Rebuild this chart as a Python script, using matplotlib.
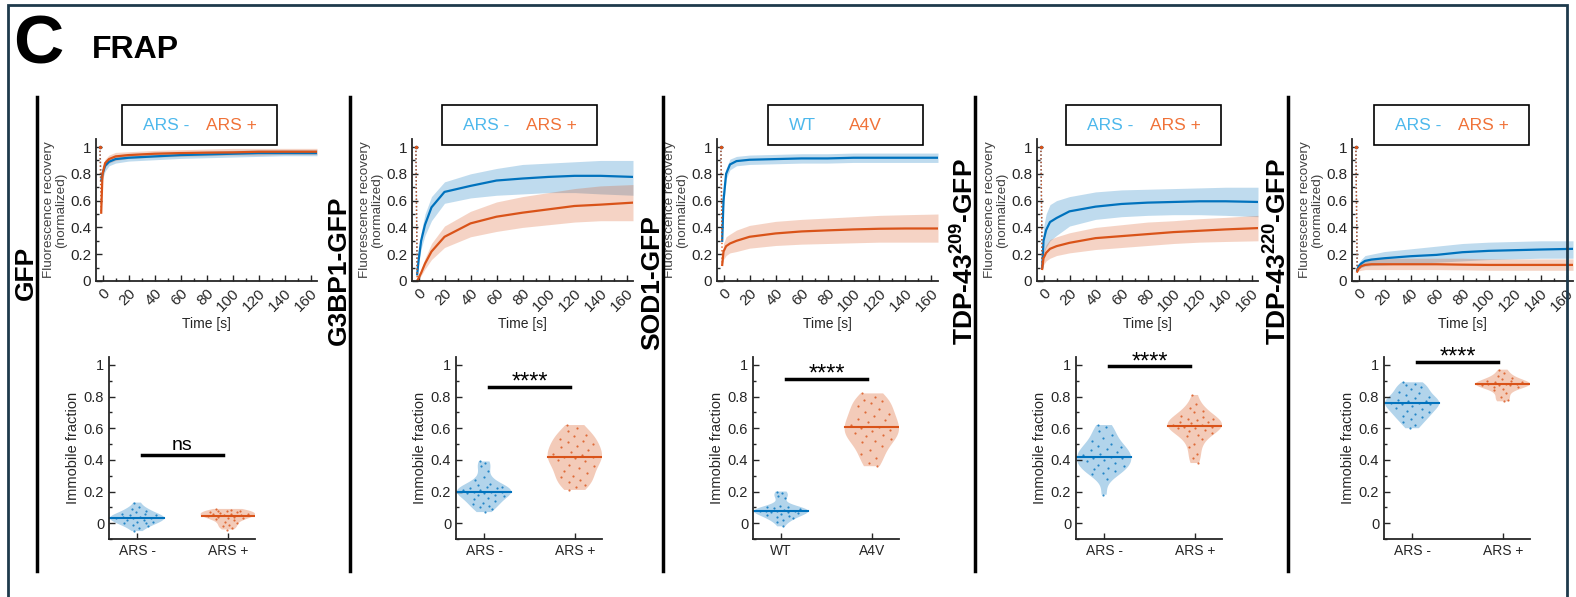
import numpy as np
import matplotlib.pyplot as plt
from matplotlib.patches import Rectangle
from matplotlib.lines import Line2D
from matplotlib.ticker import MultipleLocator, FuncFormatter

plt.rcParams['font.family'] = ['Liberation Sans', 'DejaVu Sans']
plt.rcParams['mathtext.fontset'] = 'custom'
plt.rcParams['mathtext.rm'] = 'Liberation Sans'
plt.rcParams['mathtext.bf'] = 'Liberation Sans:bold'

W, H = 1576, 597
BLUE = '#0072BD'
ORANGE = '#D95319'
TXT_BLUE = '#4DB8EC'
TXT_ORANGE = '#F07238'
GREY = '#262626'

# ---------------- data ----------------
names = ["GFP", "G3BP1-GFP", "SOD1-GFP",
         r"TDP-43$^{\mathbf{209}}$-GFP", r"TDP-43$^{\mathbf{220}}$-GFP"]
groups = [("ARS -", "ARS +"), ("ARS -", "ARS +"), ("WT", "A4V"),
          ("ARS -", "ARS +"), ("ARS -", "ARS +")]
signif = ["ns", "****", "****", "****", "****"]
signif_y = [0.43, 0.86, 0.91, 0.99, 1.02]

t_pre = -2
time = [-1, 0, 2, 5, 10, 20, 40, 60, 80, 100, 120, 140, 165]

# recovery curves: (mean, low, high) for each condition
gfp_a = ([0.75, 0.80, 0.86, 0.89, 0.91, 0.92, 0.93, 0.94, 0.945, 0.95, 0.955, 0.955, 0.955],
         [0.75, 0.76, 0.82, 0.86, 0.88, 0.895, 0.905, 0.915, 0.92, 0.925, 0.93, 0.935, 0.935],
         [0.75, 0.84, 0.90, 0.92, 0.94, 0.95, 0.96, 0.965, 0.97, 0.975, 0.978, 0.98, 0.98])
gfp_b = ([0.51, 0.80, 0.88, 0.91, 0.93, 0.94, 0.95, 0.955, 0.958, 0.96, 0.965, 0.965, 0.965],
         [0.51, 0.76, 0.85, 0.88, 0.90, 0.915, 0.925, 0.93, 0.935, 0.94, 0.94, 0.945, 0.945],
         [0.51, 0.84, 0.91, 0.94, 0.96, 0.965, 0.975, 0.98, 0.985, 0.99, 0.99, 0.99, 0.99])

g3bp1_a = ([0.05, 0.15, 0.30, 0.42, 0.55, 0.665, 0.71, 0.75, 0.765, 0.777, 0.785, 0.785, 0.777],
           [0.05, 0.12, 0.24, 0.34, 0.45, 0.58, 0.62, 0.64, 0.65, 0.66, 0.66, 0.65, 0.64],
           [0.05, 0.18, 0.36, 0.50, 0.63, 0.74, 0.80, 0.84, 0.87, 0.88, 0.89, 0.90, 0.90])
g3bp1_b = ([0.0, 0.02, 0.06, 0.13, 0.22, 0.33, 0.43, 0.48, 0.51, 0.535, 0.56, 0.57, 0.585],
           [0.0, 0.01, 0.04, 0.09, 0.16, 0.25, 0.33, 0.37, 0.40, 0.42, 0.44, 0.45, 0.45],
           [0.0, 0.03, 0.08, 0.17, 0.28, 0.41, 0.52, 0.59, 0.63, 0.66, 0.69, 0.71, 0.72])

sod1_a = ([0.30, 0.60, 0.80, 0.87, 0.895, 0.905, 0.91, 0.915, 0.915, 0.92, 0.92, 0.92, 0.92],
          [0.30, 0.55, 0.76, 0.83, 0.86, 0.87, 0.875, 0.88, 0.88, 0.885, 0.885, 0.885, 0.885],
          [0.30, 0.65, 0.84, 0.91, 0.93, 0.94, 0.945, 0.95, 0.95, 0.955, 0.955, 0.955, 0.955])
sod1_b = ([0.12, 0.22, 0.26, 0.28, 0.30, 0.33, 0.355, 0.37, 0.378, 0.385, 0.39, 0.392, 0.392],
          [0.12, 0.16, 0.19, 0.21, 0.22, 0.245, 0.265, 0.275, 0.28, 0.285, 0.29, 0.29, 0.29],
          [0.12, 0.28, 0.33, 0.35, 0.38, 0.415, 0.445, 0.46, 0.47, 0.48, 0.49, 0.495, 0.50])

tdp209_a = ([0.10, 0.30, 0.38, 0.44, 0.47, 0.52, 0.555, 0.575, 0.585, 0.59, 0.595, 0.595, 0.59],
            [0.10, 0.20, 0.25, 0.30, 0.34, 0.41, 0.46, 0.48, 0.49, 0.495, 0.495, 0.49, 0.48],
            [0.10, 0.40, 0.50, 0.57, 0.60, 0.63, 0.665, 0.68, 0.685, 0.69, 0.695, 0.70, 0.70])
tdp209_b = ([0.09, 0.17, 0.21, 0.24, 0.26, 0.285, 0.32, 0.335, 0.35, 0.365, 0.375, 0.385, 0.395],
            [0.09, 0.12, 0.15, 0.17, 0.19, 0.21, 0.235, 0.25, 0.265, 0.28, 0.29, 0.295, 0.30],
            [0.09, 0.22, 0.27, 0.31, 0.33, 0.36, 0.40, 0.42, 0.44, 0.45, 0.465, 0.475, 0.49])

tdp220_a = ([0.08, 0.11, 0.13, 0.15, 0.16, 0.17, 0.185, 0.195, 0.215, 0.225, 0.23, 0.235, 0.24],
            [0.08, 0.09, 0.10, 0.11, 0.115, 0.12, 0.13, 0.14, 0.15, 0.16, 0.165, 0.17, 0.17],
            [0.08, 0.13, 0.16, 0.19, 0.20, 0.22, 0.24, 0.26, 0.28, 0.29, 0.295, 0.30, 0.30])
tdp220_b = ([0.07, 0.09, 0.11, 0.12, 0.125, 0.125, 0.125, 0.125, 0.122, 0.12, 0.12, 0.12, 0.12],
            [0.07, 0.075, 0.08, 0.085, 0.085, 0.085, 0.085, 0.085, 0.083, 0.08, 0.08, 0.08, 0.08],
            [0.07, 0.11, 0.14, 0.16, 0.165, 0.17, 0.17, 0.17, 0.17, 0.165, 0.165, 0.165, 0.165])

curves = [(gfp_a, gfp_b), (g3bp1_a, g3bp1_b), (sod1_a, sod1_b),
          (tdp209_a, tdp209_b), (tdp220_a, tdp220_b)]

# immobile fractions (one value per cell)
imm_gfp_a = [0.13, 0.10, 0.09, 0.08, 0.07, 0.06, 0.06, 0.05, 0.05, 0.04, 0.04, 0.035,
             0.03, 0.03, 0.02, 0.02, 0.01, 0.01, 0.0, 0.0, -0.01, -0.02, -0.03, -0.05]
imm_gfp_b = [0.09, 0.085, 0.08, 0.08, 0.075, 0.07, 0.07, 0.065, 0.06, 0.06, 0.055, 0.05,
             0.05, 0.045, 0.04, 0.04, 0.035, 0.03, 0.025, 0.02, 0.01, 0.0, -0.01, -0.02,
             -0.03, -0.04]
imm_g3bp1_a = [0.39, 0.38, 0.36, 0.33, 0.29, 0.27, 0.25, 0.24, 0.23, 0.23, 0.22, 0.22,
               0.21, 0.21, 0.20, 0.20, 0.20, 0.19, 0.19, 0.18, 0.18, 0.17, 0.16, 0.15,
               0.14, 0.13, 0.12, 0.11, 0.10, 0.09, 0.07]
imm_g3bp1_b = [0.62, 0.60, 0.58, 0.56, 0.55, 0.53, 0.52, 0.51, 0.50, 0.49, 0.48, 0.46,
               0.45, 0.44, 0.43, 0.42, 0.415, 0.41, 0.40, 0.39, 0.37, 0.36, 0.35, 0.33,
               0.32, 0.30, 0.29, 0.27, 0.26, 0.24, 0.23, 0.21]
imm_sod1_a = [0.20, 0.19, 0.17, 0.16, 0.11, 0.10, 0.10, 0.095, 0.09, 0.085, 0.08, 0.08,
              0.075, 0.075, 0.07, 0.07, 0.065, 0.06, 0.05, 0.045, 0.04, 0.03, 0.02,
              0.01, -0.02]
imm_sod1_b = [0.82, 0.80, 0.78, 0.77, 0.76, 0.74, 0.72, 0.70, 0.69, 0.68, 0.66, 0.65,
              0.64, 0.62, 0.61, 0.60, 0.59, 0.58, 0.57, 0.56, 0.55, 0.53, 0.52, 0.51,
              0.49, 0.46, 0.44, 0.41, 0.38, 0.36]
imm_tdp209_a = [0.62, 0.61, 0.58, 0.56, 0.54, 0.52, 0.50, 0.49, 0.48, 0.47, 0.46, 0.45,
                0.44, 0.43, 0.42, 0.41, 0.41, 0.40, 0.39, 0.38, 0.37, 0.36, 0.35, 0.34,
                0.33, 0.32, 0.31, 0.28, 0.18]
imm_tdp209_b = [0.81, 0.75, 0.73, 0.71, 0.70, 0.68, 0.67, 0.66, 0.66, 0.65, 0.64, 0.64,
                0.63, 0.62, 0.62, 0.61, 0.61, 0.60, 0.60, 0.59, 0.58, 0.57, 0.56, 0.55,
                0.53, 0.50, 0.48, 0.44, 0.41, 0.38]
imm_tdp220_a = [0.89, 0.88, 0.87, 0.86, 0.85, 0.83, 0.82, 0.81, 0.80, 0.79, 0.78, 0.77,
                0.77, 0.76, 0.76, 0.75, 0.75, 0.74, 0.73, 0.72, 0.71, 0.70, 0.69, 0.68,
                0.67, 0.66, 0.64, 0.62, 0.60]
imm_tdp220_b = [0.97, 0.95, 0.93, 0.92, 0.91, 0.90, 0.90, 0.89, 0.89, 0.88, 0.88, 0.88,
                0.875, 0.87, 0.87, 0.86, 0.86, 0.85, 0.84, 0.82, 0.80, 0.78, 0.77]

immobile = [(imm_gfp_a, imm_gfp_b), (imm_g3bp1_a, imm_g3bp1_b), (imm_sod1_a, imm_sod1_b),
            (imm_tdp209_a, imm_tdp209_b), (imm_tdp220_a, imm_tdp220_b)]

# ---------------- layout (pixels) ----------------
line_x = [37, 350, 663, 975, 1288]
top_left = [96, 412, 717, 1037, 1352]
vio_left = [109, 456, 753, 1076, 1384]
legend_left = [122, 442, 768, 1066, 1374]
legend_text_dx = [(44, 109), (44, 109), (34, 97), (44, 109), (44, 109)]
label_bottom = [300, 345, 350, 345, 345]

fig = plt.figure(figsize=(W / 100, H / 100), dpi=100)


def px_axes(l, t, r, b):
    return fig.add_axes([l / W, 1 - b / H, (r - l) / W, (b - t) / H])


def style(ax):
    for s in ['top', 'right']:
        ax.spines[s].set_visible(False)
    for s in ['left', 'bottom']:
        ax.spines[s].set_linewidth(1.3)
        ax.spines[s].set_color(GREY)
    ax.tick_params(which='both', direction='in', colors=GREY, width=1)
    ax.tick_params(which='major', length=4)
    ax.tick_params(which='minor', length=2)


fmt = FuncFormatter(lambda v, p: f"{v:g}")

# outer frame
fig.add_artist(Rectangle((8 / W, -0.02), 1559 / W, 1 - 5 / H + 0.02, transform=fig.transFigure,
                         fill=False, edgecolor='#1E3A4C', lw=2))
fig.text(13 / W, 1 - 45 / H, "C", fontsize=50, fontweight='bold', va='center', ha='left')
fig.text(92 / W, 1 - 50 / H, "FRAP", fontsize=23, fontweight='bold', va='center', ha='left')

for k in range(5):
    # separator and column label
    fig.add_artist(Line2D([line_x[k] / W] * 2, [1 - 97 / H, 1 - 571 / H],
                          transform=fig.transFigure, color='black', lw=2.5))
    fig.text((line_x[k] - 11) / W, 1 - label_bottom[k] / H, names[k], rotation=90,
             fontsize=19, fontweight='bold', ha='center', va='bottom')

    # legend box
    bl = legend_left[k]
    fig.add_artist(Rectangle((bl / W, 1 - 145 / H), 155 / W, 40 / H,
                             transform=fig.transFigure, fill=False, edgecolor='black', lw=1.2))
    fig.text((bl + legend_text_dx[k][0]) / W, 1 - 125 / H, groups[k][0], color=TXT_BLUE,
             fontsize=12.5, ha='center', va='center')
    fig.text((bl + legend_text_dx[k][1]) / W, 1 - 125 / H, groups[k][1], color=TXT_ORANGE,
             fontsize=12.5, ha='center', va='center')

    # recovery curves
    ax = px_axes(top_left[k], 139, top_left[k] + 221, 281)
    style(ax)
    for (mean, lo, hi), col in zip(curves[k], [BLUE, ORANGE]):
        ax.fill_between(time, lo, hi, color=col, alpha=0.25, lw=0)
        ax.plot([t_pre, time[0]], [1, mean[0]], ':', color=col, lw=1)
        ax.plot([t_pre], [1], '.', color=col, ms=3)
        ax.plot(time, mean, color=col, lw=1.6)
    ax.set_xlim(-5, 165)
    ax.set_ylim(0, 1.06)
    ax.xaxis.set_major_locator(MultipleLocator(20))
    ax.xaxis.set_minor_locator(MultipleLocator(10))
    ax.yaxis.set_major_locator(MultipleLocator(0.2))
    ax.yaxis.set_minor_locator(MultipleLocator(0.1))
    ax.yaxis.set_major_formatter(fmt)
    ax.tick_params(axis='both', labelsize=11, labelcolor=GREY)
    for lab in ax.get_xticklabels():
        lab.set_rotation(45)
        lab.set_ha('right')
        lab.set_rotation_mode('anchor')
    ax.set_xlabel("Time [s]", fontsize=10, color=GREY, labelpad=2)
    ax.set_ylabel("Fluorescence recovery\n(normalized)", fontsize=9.7, color='#404040',
                  labelpad=2, linespacing=1.05)

    # violins
    ax2 = px_axes(vio_left[k], 357, vio_left[k] + 146, 539)
    style(ax2)
    vp = ax2.violinplot(immobile[k], positions=[1, 2], widths=0.6, showextrema=False,
                        bw_method=0.45)
    for pos, body, vals, col in zip([1, 2], vp['bodies'], immobile[k], [BLUE, ORANGE]):
        body.set_facecolor(col)
        body.set_edgecolor('none')
        body.set_alpha(0.3)
        v = body.get_paths()[0].vertices
        right = v[v[:, 0] >= pos]
        order = np.argsort(right[:, 1])
        vals = np.asarray(vals)
        hw = np.interp(vals, right[order, 1], right[order, 0]) - pos
        frac = ((np.arange(len(vals)) * 0.6180339887) % 1.0) * 2 - 1
        ax2.scatter(pos + frac * hw * 0.85, vals, s=2.5, color=col, alpha=0.8, lw=0)
        med = np.median(vals)
        mw = np.interp(med, right[order, 1], right[order, 0]) - pos
        ax2.plot([pos - mw, pos + mw], [med, med], color=col, lw=1.5)
    ax2.plot([1.05, 1.95], [signif_y[k]] * 2, color='black', lw=2.5)
    if signif[k] == "ns":
        ax2.text(1.5, signif_y[k] + 0.035, signif[k], ha='center', va='baseline', fontsize=14)
    else:
        ax2.text(1.5, signif_y[k] - 0.01, signif[k], ha='center', va='baseline', fontsize=17)
    ax2.set_xlim(0.69, 2.30)
    ax2.set_ylim(-0.1, 1.05)
    ax2.set_xticks([1, 2])
    ax2.set_xticklabels(groups[k])
    ax2.yaxis.set_major_locator(MultipleLocator(0.2))
    ax2.yaxis.set_minor_locator(MultipleLocator(0.1))
    ax2.yaxis.set_major_formatter(fmt)
    ax2.tick_params(axis='y', labelsize=10.5, labelcolor=GREY)
    ax2.tick_params(axis='x', labelsize=10, labelcolor=GREY)
    ax2.tick_params(axis='x', which='minor', bottom=False)
    ax2.set_ylabel("Immobile fraction", fontsize=10.5, color=GREY, labelpad=3)

fig.savefig("out.png", dpi=100)
